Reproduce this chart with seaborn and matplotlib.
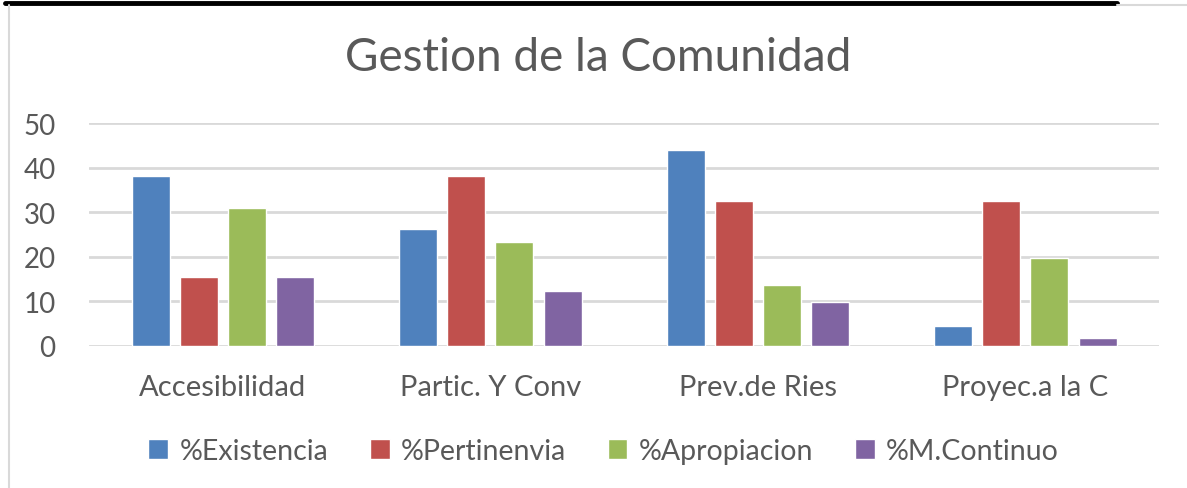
import pandas as pd
import numpy as np
import matplotlib
matplotlib.use("Agg")
import matplotlib.pyplot as plt
import seaborn as sns
from matplotlib.lines import Line2D

# data
categories = ["Accesibilidad", "Partic. Y Conv", "Prev.de Ries", "Proyec.a la C"]
series = ["%Existencia", "%Pertinenvia", "%Apropiacion", "%M.Continuo"]
existencia = [38.1, 26.2, 43.9, 4.5]
pertinenvia = [15.5, 38.1, 32.5, 32.5]
apropiacion = [30.9, 23.3, 13.7, 19.7]
m_continuo = [15.5, 12.3, 9.9, 1.8]
colors = ["#4F81BD", "#C0504D", "#9BBB59", "#8064A2"]

df = pd.DataFrame({
    "Categoria": categories,
    "%Existencia": existencia,
    "%Pertinenvia": pertinenvia,
    "%Apropiacion": apropiacion,
    "%M.Continuo": m_continuo,
})
long_df = df.melt(id_vars="Categoria", var_name="Serie", value_name="Valor")

sns.set_theme(style="white")
plt.rcParams["font.family"] = ["Lato", "DejaVu Sans"]
text_color = "#595959"

fig = plt.figure(figsize=(11.87, 4.89), dpi=100)
ax = fig.add_axes([0.075, 0.2904, 0.9015, 0.456])

sns.barplot(data=long_df, x="Categoria", y="Valor", hue="Serie",
            order=categories, hue_order=series, palette=colors,
            saturation=1, width=0.72, gap=0.21, ax=ax)

ax.set_ylim(0, 50)
ax.set_xlim(-0.5, 3.5)
ax.set_yticks([0, 10, 20, 30, 40, 50])
ax.yaxis.grid(True, color="#D9D9D9", linewidth=2)
ax.set_axisbelow(True)
for s in ax.spines.values():
    s.set_visible(False)
ax.set_xlabel("")
ax.set_ylabel("")
ax.tick_params(axis="y", length=0, pad=24, labelsize=20, labelcolor=text_color)
ax.tick_params(axis="x", length=0, pad=20, labelsize=21, labelcolor=text_color)

fig.suptitle("Gestion de la Comunidad", x=0.504, y=0.925, fontsize=33,
             color=text_color)

handles, labels = ax.get_legend_handles_labels()
ax.legend(handles, labels, loc="center", bbox_to_anchor=(0.5085, 0.076),
          bbox_transform=fig.transFigure, ncol=4, frameon=False,
          fontsize=20.5, labelcolor=text_color, handlelength=0.7,
          handleheight=0.7, handletextpad=0.4, columnspacing=1.45)

# frame lines of the original picture
fig.add_artist(Line2D([5 / 1187, 1117 / 1187], [1 - 4 / 489, 1 - 4 / 489],
                      color="black", linewidth=3.5, transform=fig.transFigure))
fig.add_artist(Line2D([1117 / 1187, 1.0], [1 - 6 / 489, 1 - 6 / 489],
                      color="#D9D9D9", linewidth=1.5, transform=fig.transFigure))
fig.add_artist(Line2D([9 / 1187, 9 / 1187], [0, 1 - 6 / 489],
                      color="#D9D9D9", linewidth=1.5, transform=fig.transFigure))

fig.savefig("out.png", dpi=100)
